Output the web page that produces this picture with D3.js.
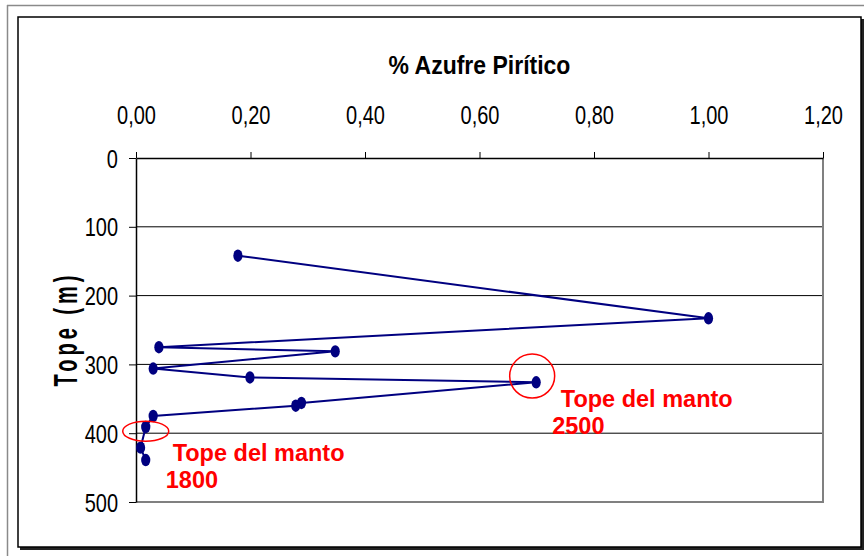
<!DOCTYPE html>
<html>
<head>
<meta charset="utf-8">
<script src="https://cdn.jsdelivr.net/npm/d3@7"></script>
<style>
  body { margin: 0; background: #fff; }
  svg { display: block; }
  text { font-family: "Liberation Sans", Arial, Helvetica, sans-serif; }
</style>
</head>
<body>
<svg id="chart" width="864" height="556"></svg>
<script>
// % pyritic sulphur by depth (m), in sampling order
const sulfur = [0.178, 1.00, 0.040, 0.348, 0.030, 0.199, 0.699, 0.289, 0.279, 0.030, 0.017, 0.008, 0.017];
const depth  = [142, 233, 275, 281, 306, 319, 326, 356, 360, 375, 391, 421, 439];

const xTicks = [0, 0.2, 0.4, 0.6, 0.8, 1.0, 1.2];
const yTicks = [0, 100, 200, 300, 400, 500];

const xTitle = "% Azufre Pirítico";
const yTitle = "Tope (m)";

// Seam-top annotations: ring position (data units) and label anchor (data units)
const seamLabels = [["Tope del manto", "2500"], ["Tope del manto", "1800"]];
const ringCentersX = [0.692, 0.017];
const ringCentersY = [317, 397];
const labelX = [[0.742, 0.727], [0.064, 0.052]];
const labelY = [[362, 401], [440, 479]];

const svg = d3.select("#chart");
const W = 864, H = 556;
const plot = { left: 136, right: 823, top: 158, bottom: 502 };
const stretch = 1.25; // glyphs are drawn taller than wide

const x = d3.scaleLinear().domain([0, 1.2]).range([plot.left, plot.right]);
const y = d3.scaleLinear().domain([0, 500]).range([plot.top, plot.bottom]);
const fmt = v => d3.format(".2f")(v).replace(".", ",");

// page frame lines
svg.append("line").attr("x1", 7).attr("x2", W).attr("y1", 5.5).attr("y2", 5.5)
  .attr("stroke", "#8a8a8a").attr("stroke-width", 1.5);
svg.append("line").attr("x1", 7.5).attr("x2", 7.5).attr("y1", 5).attr("y2", H)
  .attr("stroke", "#8a8a8a").attr("stroke-width", 1.5);

// chart area with drop shadow
svg.append("rect").attr("x", 20).attr("y", 19).attr("width", 844).attr("height", 531)
  .attr("fill", "#222");
svg.append("rect").attr("x", 18).attr("y", 17).attr("width", 843).attr("height", 530)
  .attr("fill", "#fff").attr("stroke", "#000").attr("stroke-width", 1.5);

// horizontal gridlines
svg.append("g").selectAll("line")
  .data(yTicks.filter(d => d > 0 && d < 500))
  .join("line")
  .attr("x1", plot.left).attr("x2", plot.right)
  .attr("y1", d => y(d)).attr("y2", d => y(d))
  .attr("stroke", "#000").attr("stroke-width", 1);

// plot area border (right & bottom)
svg.append("path")
  .attr("d", `M${plot.right},${plot.top}V${plot.bottom}H${plot.left}`)
  .attr("fill", "none").attr("stroke", "#808080").attr("stroke-width", 2);

// x axis on top
const xAxis = svg.append("g")
  .attr("transform", `translate(0,${plot.top})`)
  .call(d3.axisTop(x).tickValues(xTicks).tickFormat(fmt).tickSizeInner(6).tickSizeOuter(0));
xAxis.select(".domain").attr("stroke", "#000").attr("stroke-width", 1.5);
xAxis.selectAll(".tick line").attr("stroke", "#000").attr("stroke-width", 1);
xAxis.selectAll(".tick text")
  .attr("font-size", 20).attr("fill", "#000")
  .attr("y", 0).attr("dy", null)
  .attr("transform", `translate(0,-34) scale(1,${stretch})`);

// y axis
const yAxis = svg.append("g")
  .attr("transform", `translate(${plot.left},0)`)
  .call(d3.axisLeft(y).tickValues(yTicks).tickSizeInner(7).tickSizeOuter(0));
yAxis.select(".domain").attr("stroke", "#000").attr("stroke-width", 1.5);
yAxis.selectAll(".tick line").attr("stroke", "#000").attr("stroke-width", 1);
yAxis.selectAll(".tick text")
  .attr("font-size", 20).attr("fill", "#000")
  .attr("x", 0).attr("dy", "0.36em")
  .attr("transform", `translate(-18,0) scale(1,${stretch})`);

// titles
svg.append("text")
  .attr("transform", `translate(${(plot.left + plot.right) / 2},74) scale(1,1.15)`)
  .attr("text-anchor", "middle").attr("font-size", 23).attr("font-weight", "bold")
  .text(xTitle);

svg.append("text")
  .attr("transform", "translate(77,329) rotate(-90) scale(1,1.65)")
  .attr("text-anchor", "middle").attr("font-size", 20).attr("font-weight", "bold")
  .attr("letter-spacing", 4)
  .text(yTitle);

// data series
const pts = sulfur.map((v, i) => [v, depth[i]]);
svg.append("path")
  .datum(pts)
  .attr("d", d3.line().x(d => x(d[0])).y(d => y(d[1])))
  .attr("fill", "none").attr("stroke", "#000080").attr("stroke-width", 2);

svg.append("g").selectAll("ellipse")
  .data(pts)
  .join("ellipse")
  .attr("cx", d => x(d[0])).attr("cy", d => y(d[1]))
  .attr("rx", 4.6).attr("ry", 6.2)
  .attr("fill", "#000080");

// annotations
svg.append("ellipse")
  .attr("cx", x(ringCentersX[0])).attr("cy", y(ringCentersY[0]))
  .attr("rx", 22.5).attr("ry", 22)
  .attr("fill", "none").attr("stroke", "#ff0000").attr("stroke-width", 1.5);
svg.append("ellipse")
  .attr("cx", x(ringCentersX[1])).attr("cy", y(ringCentersY[1]))
  .attr("rx", 23).attr("ry", 10)
  .attr("fill", "none").attr("stroke", "#ff0000").attr("stroke-width", 1.5);

seamLabels.forEach((lines, k) => {
  lines.forEach((t, j) => {
    svg.append("text")
      .attr("x", x(labelX[k][j])).attr("y", y(labelY[k][j]))
      .attr("font-size", 23.5).attr("font-weight", "bold").attr("fill", "#ff0000")
      .text(t);
  });
});
</script>
</body>
</html>
